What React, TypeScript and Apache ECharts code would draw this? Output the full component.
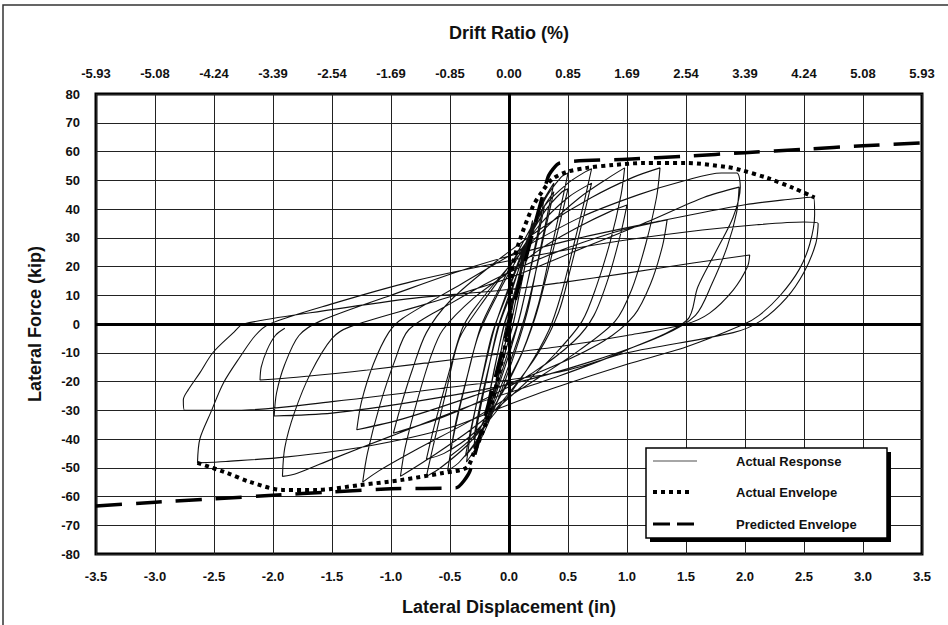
import React, { useEffect, useRef } from "react";
import * as echarts from "echarts";

// ---- Tick labels ----
const driftLabels = ["-5.93", "-5.08", "-4.24", "-3.39", "-2.54", "-1.69", "-0.85", "0.00", "0.85", "1.69", "2.54", "3.39", "4.24", "5.08", "5.93"];

// ---- Actual response, by cycle group [displacement (in), force (kip)] ----
const cycle01 = [[0, 0], [0.04, 8], [0.1, 19], [0.08, 13], [0.03, 3], [-0.02, -5], [-0.1, -18], [-0.08, -12], [-0.03, -2], [0.02, 6], [0.1, 18], [0.07, 11], [0.02, 1], [-0.04, -8], [-0.1, -17], [-0.07, -10], [-0.02, 0]];
const cycle02 = [[0.04, 9], [0.12, 23], [0.2, 36], [0.17, 28], [0.1, 13], [0.04, 1], [-0.04, -11], [-0.12, -23], [-0.2, -35], [-0.17, -26], [-0.1, -11], [-0.04, 0], [0.04, 10], [0.12, 22], [0.2, 34], [0.16, 25], [0.09, 11], [0.03, -1], [-0.05, -12], [-0.13, -23], [-0.2, -33], [-0.16, -23], [-0.09, -9], [-0.03, 1]];
const cycle03 = [[0.05, 10], [0.15, 25], [0.24, 38], [0.3, 44], [0.26, 35], [0.18, 19], [0.1, 4], [0.02, -8], [-0.1, -23], [-0.22, -37], [-0.3, -43], [-0.26, -33], [-0.18, -17], [-0.1, -2], [0, 10], [0.12, 23], [0.24, 36], [0.3, 41], [0.25, 31], [0.16, 15], [0.08, 1], [-0.01, -10], [-0.12, -24], [-0.24, -36], [-0.3, -40], [-0.25, -29], [-0.16, -13], [-0.08, 0]];
const cycle04 = [[0.02, 11], [0.15, 28], [0.28, 42], [0.38, 49], [0.33, 39], [0.24, 21], [0.16, 5], [0.05, -10], [-0.1, -27], [-0.25, -41], [-0.36, -48], [-0.32, -37], [-0.23, -19], [-0.14, -3], [-0.02, 10], [0.14, 27], [0.3, 41], [0.38, 46], [0.32, 35], [0.22, 17], [0.13, 2], [0.02, -12], [-0.14, -29], [-0.28, -41], [-0.37, -46], [-0.31, -34], [-0.21, -16], [-0.12, -1]];
const cycle05 = [[0, 13], [0.15, 29], [0.3, 43], [0.44, 51], [0.5, 52.5], [0.44, 41], [0.34, 23], [0.25, 7], [0.12, -9], [-0.05, -23], [-0.25, -39], [-0.42, -48], [-0.52, -51], [-0.47, -39], [-0.37, -21], [-0.26, -4], [-0.1, 10], [0.1, 25], [0.3, 39], [0.45, 46], [0.5, 47], [0.43, 35], [0.32, 17], [0.22, 2], [0.08, -13], [-0.1, -27], [-0.3, -39], [-0.5, -46], [-0.45, -34], [-0.34, -16], [-0.24, -1]];
const cycle07 = [[-0.1, 11], [0.1, 27], [0.3, 41], [0.5, 49], [0.65, 53], [0.7, 54], [0.64, 43], [0.54, 26], [0.44, 10], [0.34, -2], [0.15, -16], [-0.1, -30], [-0.35, -42], [-0.58, -50], [-0.7, -53], [-0.64, -42], [-0.53, -23], [-0.42, -5], [-0.25, 6], [0, 20], [0.25, 34], [0.5, 44], [0.7, 49], [0.63, 37], [0.52, 19], [0.42, 4], [0.25, -10], [0, -24], [-0.3, -38], [-0.55, -45], [-0.7, -47], [-0.63, -35], [-0.51, -17], [-0.4, -2]];
const cycle10 = [[-0.3, 5], [0, 20], [0.3, 33], [0.6, 44], [0.85, 51], [0.98, 54.3], [0.95, 45], [0.86, 29], [0.74, 13], [0.62, 1], [0.4, -10], [0.1, -22], [-0.3, -36], [-0.65, -46], [-0.92, -53], [-0.88, -43], [-0.78, -27], [-0.66, -11], [-0.56, -2], [-0.3, 9], [0, 18], [0.3, 27], [0.6, 34], [0.85, 39], [1.0, 41.4], [0.95, 32], [0.85, 17], [0.72, 3], [0.55, -6], [0.2, -17], [-0.2, -26], [-0.6, -33], [-0.98, -38], [-0.92, -29], [-0.82, -16], [-0.7, -3]];
const cycle13 = [[-0.5, 8], [-0.1, 22], [0.3, 34], [0.7, 44], [1.05, 51], [1.28, 54.3], [1.25, 44], [1.16, 28], [1.04, 12], [0.9, 1], [0.6, -9], [0.2, -20], [-0.3, -33], [-0.8, -44], [-1.1, -51], [-1.24, -55], [-1.2, -45], [-1.1, -29], [-0.97, -13], [-0.85, -2], [-0.5, 7], [-0.1, 16], [0.4, 25], [0.9, 32], [1.2, 35], [1.34, 36.2], [1.3, 27], [1.2, 14], [1.06, 3], [0.8, -6], [0.3, -16], [-0.3, -25], [-0.9, -33], [-1.29, -36.8], [-1.25, -27], [-1.15, -14], [-1.02, -3]];
const cycle19 = [[-0.9, 2], [-0.4, 14], [0.1, 26], [0.6, 37], [1.1, 45], [1.5, 50], [1.8, 52.5], [1.93, 52.5], [1.96, 47.6], [1.9, 37.2], [1.76, 25.7], [1.6, 12.9], [1.51, 1.4], [1.0, -9], [0.43, -18], [-0.3, -28], [-1.0, -39], [-1.5, -47], [-1.8, -52], [-1.92, -53], [-1.9, -43], [-1.82, -31], [-1.68, -17], [-1.5, -5], [-1.35, -1], [-0.7, 7], [0, 16], [0.6, 26], [1.2, 36], [1.65, 44], [1.95, 47.6], [1.93, 39], [1.85, 27], [1.72, 14], [1.58, 3], [1.3, -4], [0.7, -13], [0, -21], [-0.8, -27], [-1.5, -31], [-1.99, -32], [-1.97, -24], [-1.9, -14], [-1.78, -4], [-1.6, 1]];
const cycle26 = [[-1.0, 10], [-0.3, 20], [0.5, 29], [1.3, 36], [2.0, 41.5], [2.4, 43.5], [2.58, 44.2], [2.59, 38], [2.55, 28], [2.46, 19], [2.3, 10], [2.12, 3], [1.98, -0.3], [1.5, -8], [1.0, -14], [0.4, -22], [0, -28], [-0.5, -36], [-1.2, -42.5], [-1.9, -46.3], [-2.4, -47.8], [-2.64, -48.3], [-2.62, -40], [-2.53, -31], [-2.42, -20.5], [-2.28, -11.5], [-2.15, -4], [-2.03, 0], [-1.5, 7], [-0.8, 15], [0, 22], [0.8, 28], [1.5, 32], [2.1, 34.5], [2.5, 35.5], [2.62, 35], [2.6, 28], [2.5, 18], [2.35, 9], [2.13, 1], [1.9, -3], [1.0, -10], [0.43, -16.7], [-0.5, -22], [-1.5, -27], [-2.3, -30], [-2.75, -30], [-2.76, -26.4], [-2.72, -23], [-2.62, -17], [-2.51, -10], [-2.34, -3.2], [-2.25, 0]];
const cycle20 = [[-1.5, 5], [-0.8, 9], [0, 12], [0.43, 14.3], [1.0, 17.7], [1.56, 21.2], [2.04, 24], [2.02, 19.8], [1.9, 11.8], [1.7, 3.8], [1.5, 0], [1.0, -4], [0.4, -8], [-0.4, -12], [-1.2, -16], [-1.8, -18.5], [-2.11, -19.5], [-2.1, -15], [-2.05, -9], [-1.98, -4], [-1.9, -1.5]];

// ---- Envelopes ----
const actualEnvelope = [[-2.64, -48.3], [-2.39, -51.8], [-2.19, -55], [-1.92, -57.7], [-1.63, -57.7], [-1.26, -56], [-0.92, -54.3], [-0.56, -51.8], [-0.36, -50], [-0.3, -45], [-0.2, -35], [-0.1, -20], [0, 0], [0.03, 20], [0.09, 29], [0.2, 40.7], [0.29, 46.6], [0.37, 50.5], [0.49, 52.9], [0.66, 54.3], [0.88, 55.3], [1.14, 56], [1.5, 56], [1.85, 54.6], [1.96, 53.6], [2.19, 50.8], [2.41, 47.3], [2.59, 44]];
const predictedEnvelope = [[-3.5, -63.3], [-3.0, -62], [-2.5, -60.8], [-2.0, -59.6], [-1.5, -58.4], [-1.0, -57.3], [-0.45, -57], [-0.33, -51], [0, 0], [0.33, 51], [0.43, 56], [1.0, 57.3], [1.5, 58.4], [2.0, 59.6], [2.5, 60.8], [3.0, 62], [3.5, 63]];

const legendNames = ["Actual Response", "Actual Envelope", "Predicted Envelope"];

export default function App() {
  const ref = useRef<HTMLDivElement>(null);
  useEffect(() => {
    const chart = echarts.init(ref.current!, null, { renderer: "svg" });
    const font = "'Liberation Sans', Arial, sans-serif";
    const response = [...cycle01, ...cycle02, ...cycle03, ...cycle04, ...cycle05, ...cycle07, ...cycle10, ...cycle13, ...cycle19, ...cycle26, ...cycle20];
    const labelStyle = { fontSize: 13, fontWeight: "bold", color: "#111", fontFamily: font };
    const nameStyle = { fontSize: 18, fontWeight: "bold", color: "#111", fontFamily: font };
    chart.setOption({
      animation: false,
      backgroundColor: "#fff",
      grid: { left: 96, right: 26, top: 94, bottom: 71, show: true, borderColor: "#000", borderWidth: 3, backgroundColor: "transparent" },
      xAxis: [
        {
          type: "value", position: "bottom", min: -3.5, max: 3.5, interval: 0.5,
          axisLine: { show: false }, axisTick: { show: false },
          splitLine: { show: true, lineStyle: { color: "#222", width: 1 } },
          axisLabel: { ...labelStyle, margin: 16, formatter: (v: number) => v.toFixed(1) },
          name: "Lateral Displacement (in)", nameLocation: "middle", nameGap: 44, nameTextStyle: nameStyle,
        },
        {
          type: "value", position: "top", min: -3.5, max: 3.5, interval: 0.5,
          axisLine: { show: false }, axisTick: { show: false }, splitLine: { show: false },
          axisLabel: { ...labelStyle, margin: 14, formatter: (v: number) => driftLabels[Math.round((v + 3.5) / 0.5)] },
          name: "Drift Ratio (%)", nameLocation: "middle", nameGap: 52, nameTextStyle: nameStyle,
        },
      ],
      yAxis: {
        type: "value", min: -80, max: 80, interval: 10,
        axisLine: { show: false }, axisTick: { show: false },
        splitLine: { show: true, lineStyle: { color: "#222", width: 1 } },
        axisLabel: { ...labelStyle, margin: 16 },
        name: "Lateral Force (kip)", nameLocation: "middle", nameGap: 52, nameRotate: 90, nameTextStyle: nameStyle,
      },
      series: [
        {
          name: legendNames[0], type: "line", data: response, symbol: "none", smooth: 0.3, z: 2,
          lineStyle: { color: "#111", width: 1.1 },
          markLine: {
            silent: true, symbol: "none", label: { show: false },
            lineStyle: { color: "#000", width: 3, type: "solid" },
            data: [{ xAxis: 0 }, { yAxis: 0 }],
          },
        },
        {
          name: legendNames[1], type: "line", data: actualEnvelope, symbol: "none", smooth: 0.3, z: 3,
          lineStyle: { color: "#000", width: 4, type: [4, 4] },
        },
        {
          name: legendNames[2], type: "line", data: predictedEnvelope, symbol: "none", smooth: 0.2, z: 4,
          lineStyle: { color: "#000", width: 3.5, type: [26, 14] },
        },
      ],
      graphic: [
        { type: "rect", z: 100, shape: { x: 3, y: 5, width: 980, height: 660 }, style: { fill: "none", stroke: "#333", lineWidth: 1.5 } },
        { type: "rect", z: 100, shape: { x: 650, y: 452, width: 241, height: 90 }, style: { fill: "#000" } },
        { type: "rect", z: 101, shape: { x: 646, y: 448, width: 241, height: 90 }, style: { fill: "#fff", stroke: "#000", lineWidth: 1.5 } },
        { type: "line", z: 102, shape: { x1: 653, y1: 461, x2: 697, y2: 461 }, style: { stroke: "#888", lineWidth: 1.5 } },
        { type: "line", z: 102, shape: { x1: 653, y1: 492, x2: 693, y2: 492 }, style: { stroke: "#000", lineWidth: 4, lineDash: [4, 4] } },
        { type: "line", z: 102, shape: { x1: 653, y1: 524, x2: 697, y2: 524 }, style: { stroke: "#000", lineWidth: 3, lineDash: [17, 7] } },
        { type: "text", z: 102, x: 736, y: 461, style: { text: legendNames[0], font: `bold 13px ${font}`, fill: "#111", verticalAlign: "middle" } },
        { type: "text", z: 102, x: 736, y: 492, style: { text: legendNames[1], font: `bold 13px ${font}`, fill: "#111", verticalAlign: "middle" } },
        { type: "text", z: 102, x: 736, y: 524, style: { text: legendNames[2], font: `bold 13px ${font}`, fill: "#111", verticalAlign: "middle" } },
      ],
    });
    return () => chart.dispose();
  }, []);
  return <div ref={ref} style={{ position: "fixed", left: 0, top: 0, width: 948, height: 625, background: "#fff" }} />;
}
